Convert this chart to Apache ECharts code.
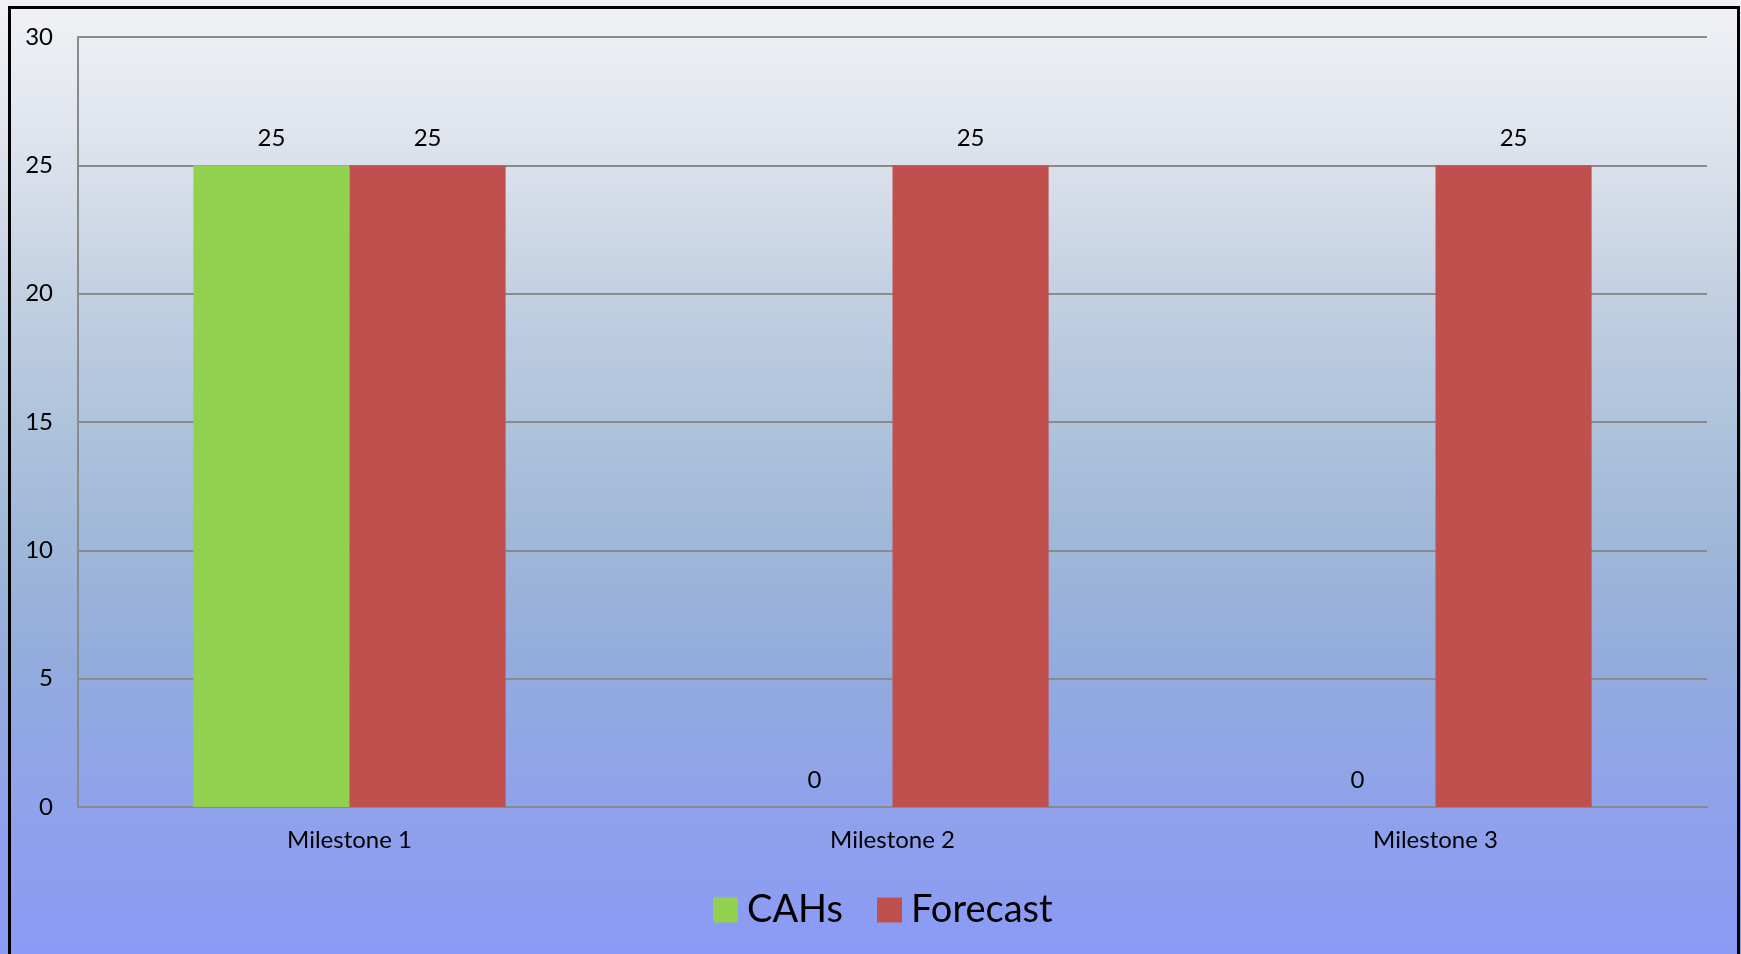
<!DOCTYPE html>
<html>
<head>
<meta charset="utf-8">
<title>CAHs vs Forecast</title>
<script src="https://cdn.jsdelivr.net/npm/echarts@6/dist/echarts.min.js"></script>
<style>
  html, body { margin: 0; padding: 0; }
  body {
    width: 1741px; height: 954px; overflow: hidden; position: relative;
    background: linear-gradient(to bottom, #f1f2f6 0%, #dbe1eb 17%, #c4d1e2 30%, #b0c4dc 43%, #a0b8d8 56%, #93acdc 69%, #8fa2ea 84%, #8b9af5 100%);
  }
  #chart { position: absolute; left: 0; top: 0; width: 1741px; height: 954px; }
  #frame {
    position: absolute; left: 8px; top: 6px; width: 1726px; height: 960px;
    border: 3px solid #000; pointer-events: none;
  }
</style>
</head>
<body>
<div id="chart"></div>
<div id="frame"></div>
<script>
// Milestone categories and the two series shown per milestone
const categories = ['Milestone 1', 'Milestone 2', 'Milestone 3'];
const cahs = [25, 0, 0];
const forecast = [25, 25, 25];
const yTicks = { min: 0, max: 30, interval: 5 };

const FONT = 'Lato, "Open Sans", sans-serif';

const chart = echarts.init(document.getElementById('chart'), null, { renderer: 'canvas' });

const valueLabel = {
  show: true,
  position: 'top',
  distance: 15,
  color: '#000',
  fontSize: 24,
  fontFamily: FONT
};

chart.setOption({
  backgroundColor: 'transparent',
  animation: false,
  grid: { left: 78, top: 37, right: 34, bottom: 147, containLabel: false },
  legend: {
    bottom: 20,
    left: 708,
    itemWidth: 25,
    itemHeight: 25,
    itemGap: 34,
    icon: 'rect',
    textStyle: { fontSize: 38, color: '#000', fontFamily: FONT, padding: [0, 0, 0, 4] },
    data: ['CAHs', 'Forecast']
  },
  xAxis: {
    type: 'category',
    data: categories,
    axisLine: { show: true, lineStyle: { color: '#8a8a8a', width: 2 } },
    axisTick: { show: false },
    axisLabel: { color: '#000', fontSize: 24, fontFamily: FONT, margin: 21 },
    splitLine: { show: false }
  },
  yAxis: {
    type: 'value',
    min: yTicks.min,
    max: yTicks.max,
    interval: yTicks.interval,
    axisLine: { show: true, lineStyle: { color: '#8a8a8a', width: 2 } },
    axisTick: { show: false },
    axisLabel: { color: '#000', fontSize: 24, fontFamily: FONT, margin: 25 },
    splitLine: { show: true, lineStyle: { color: '#8a8a8a', width: 2 } }
  },
  series: [
    {
      name: 'CAHs',
      type: 'bar',
      data: cahs,
      barGap: '0%',
      barCategoryGap: '42.5%',
      itemStyle: { color: '#92d050' },
      label: valueLabel
    },
    {
      name: 'Forecast',
      type: 'bar',
      data: forecast,
      barGap: '0%',
      barCategoryGap: '42.5%',
      itemStyle: { color: '#c0504d' },
      label: valueLabel
    }
  ]
});
</script>
</body>
</html>
